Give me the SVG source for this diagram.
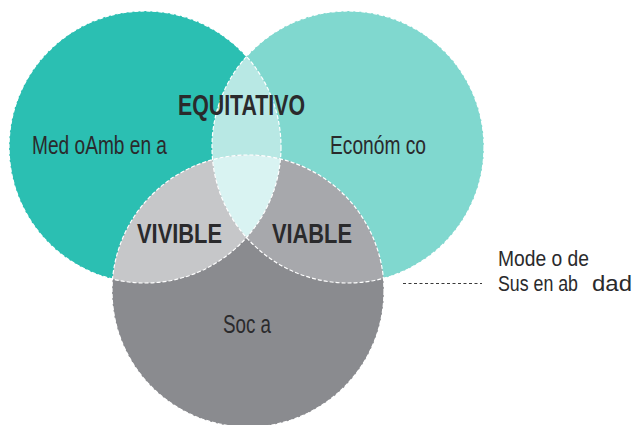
<svg xmlns="http://www.w3.org/2000/svg" width="633" height="425" viewBox="0 0 633 425">
<style>
.edge{fill:none;stroke:#ffffff;stroke-width:1.2;stroke-dasharray:4 2}
.lbl{font-family:"Liberation Sans",Arial,sans-serif;fill:#2a2a2c}
.big{font-family:"Liberation Sans",Arial,sans-serif;font-weight:bold;fill:#2a2a2c}
.side{font-family:"Liberation Sans",Arial,sans-serif;fill:#2a2a2c;font-size:17.5px}
</style>
<defs>
<clipPath id="cL"><circle cx="145" cy="147" r="136"/></clipPath>
<clipPath id="cR"><circle cx="348" cy="147" r="136"/></clipPath>
</defs>
<rect width="633" height="425" fill="#ffffff"/>
<g id="medioambiental"><circle cx="145" cy="147" r="136" fill="#2bbfb2"/></g>
<g id="economico"><circle cx="348" cy="147" r="136" fill="#80d8cf"/></g>
<g id="social"><circle cx="248" cy="291" r="136" fill="#8a8b8f"/></g>
<g id="equitativo"><g clip-path="url(#cL)"><circle cx="348" cy="147" r="136" fill="#b8e8e4"/></g></g>
<g id="vivible"><g clip-path="url(#cL)"><circle cx="248" cy="291" r="136" fill="#c6c7c9"/></g></g>
<g id="viable"><g clip-path="url(#cR)"><circle cx="248" cy="291" r="136" fill="#a7a8ac"/></g></g>
<g id="centro"><g clip-path="url(#cL)"><g clip-path="url(#cR)"><circle cx="248" cy="291" r="136" fill="#d9f3f2"/></g></g></g>
<g id="edges">
<circle class="edge" cx="145" cy="147" r="136"/>
<circle class="edge" cx="348" cy="147" r="136"/>
<circle class="edge" cx="248" cy="291" r="136"/>
</g>
<g id="connectors">
<line x1="403" y1="283.5" x2="482" y2="283.5" stroke="#3a3a3a" stroke-width="1" stroke-dasharray="3 2.5"/>
</g>
<g id="labels">
<text class="big" x="178" y="115" font-size="29" textLength="127" lengthAdjust="spacingAndGlyphs">EQUITATIVO</text>
<text class="lbl" x="32" y="154" font-size="25" textLength="135" lengthAdjust="spacingAndGlyphs">Med oAmb en a</text>
<text class="lbl" x="330" y="154" font-size="25" textLength="96" lengthAdjust="spacingAndGlyphs">Económ co</text>
<text class="big" x="137" y="243" font-size="28" textLength="85" lengthAdjust="spacingAndGlyphs">VIVIBLE</text>
<text class="big" x="272" y="243" font-size="28" textLength="80" lengthAdjust="spacingAndGlyphs">VIABLE</text>
<text class="lbl" x="223" y="333" font-size="25" textLength="48" lengthAdjust="spacingAndGlyphs">Soc a</text>
<text class="side" transform="translate(498,266) scale(1,1.3)" textLength="91" lengthAdjust="spacingAndGlyphs">Mode o de</text>
<text class="side" transform="translate(498,291) scale(1,1.3)" textLength="80" lengthAdjust="spacingAndGlyphs">Sus en ab</text>
<text class="side" transform="translate(592,291) scale(1,1.3)" textLength="40" lengthAdjust="spacingAndGlyphs">dad</text>
</g>
</svg>
